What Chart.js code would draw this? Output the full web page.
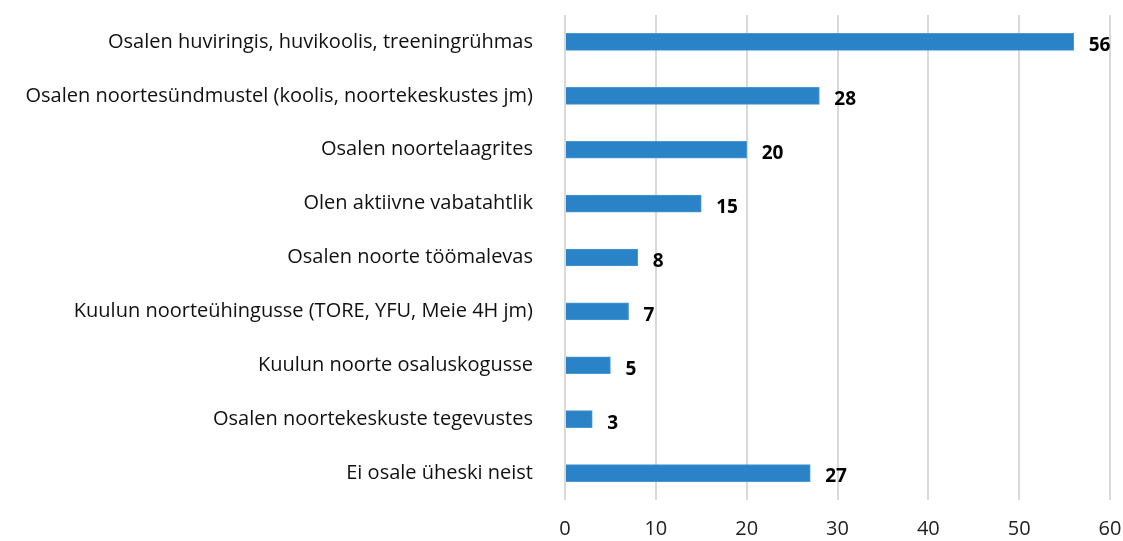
<!DOCTYPE html>
<html>
<head>
<meta charset="utf-8">
<script src="https://cdn.jsdelivr.net/npm/chart.js@4"></script>
<style>
  html, body { margin: 0; padding: 0; background: #fff; }
</style>
</head>
<body>
<canvas id="chart" width="1123" height="541"></canvas>
<script>
const categories = [
    'Osalen huviringis, huvikoolis, treeningrühmas',
    'Osalen noortesündmustel (koolis, noortekeskustes jm)',
    'Osalen noortelaagrites',
    'Olen aktiivne vabatahtlik',
    'Osalen noorte töömalevas',
    'Kuulun noorteühingusse (TORE, YFU, Meie 4H jm)',
    'Kuulun noorte osaluskogusse',
    'Osalen noortekeskuste tegevustes',
    'Ei osale üheski neist'
];
const values = [56, 28, 20, 15, 8, 7, 5, 3, 27];
const xTicks = [0, 10, 20, 30, 40, 50, 60];

const fontFamily = '"Open Sans", sans-serif';

// bold value label at the end of each bar
const valueLabels = {
    id: 'valueLabels',
    afterDatasetsDraw(chart) {
        const ctx = chart.ctx;
        const meta = chart.getDatasetMeta(0);
        ctx.save();
        ctx.font = 'bold 19px ' + fontFamily;
        ctx.fillStyle = '#000';
        ctx.textAlign = 'left';
        ctx.textBaseline = 'middle';
        meta.data.forEach(function (bar, i) {
            ctx.fillText(values[i], bar.x + 15, bar.y + 4);
        });
        ctx.restore();
    }
};

new Chart(document.getElementById('chart').getContext('2d'), {
    type: 'bar',
    data: {
        labels: categories,
        datasets: [{
            data: values,
            backgroundColor: '#2a83c6',
            borderColor: '#4a98d2',
            borderWidth: 1,
            barThickness: 17
        }]
    },
    options: {
        indexAxis: 'y',
        responsive: false,
        animation: false,
        layout: { padding: { top: 15, right: 13, left: 0, bottom: 0 } },
        plugins: { legend: { display: false }, tooltip: { enabled: false } },
        scales: {
            x: {
                min: 0,
                max: 60,
                afterBuildTicks(scale) { scale.ticks = xTicks.map(v => ({ value: v })); },
                afterFit(scale) {
                    scale.height = 41;
                    scale.paddingLeft = 0;
                    scale.paddingRight = 0;
                },
                grid: { color: '#d9d9d9', lineWidth: 2, drawTicks: false },
                border: { display: false },
                ticks: { color: '#222', font: { family: fontFamily, size: 20 }, padding: 17 }
            },
            y: {
                afterFit(scale) {
                    scale.width = 565;
                    scale.paddingTop = 0;
                    scale.paddingBottom = 0;
                },
                grid: { display: false },
                border: { display: false },
                ticks: { color: '#111', font: { family: fontFamily, size: 20 }, padding: 24 }
            }
        }
    },
    plugins: [valueLabels]
});
</script>
</body>
</html>
